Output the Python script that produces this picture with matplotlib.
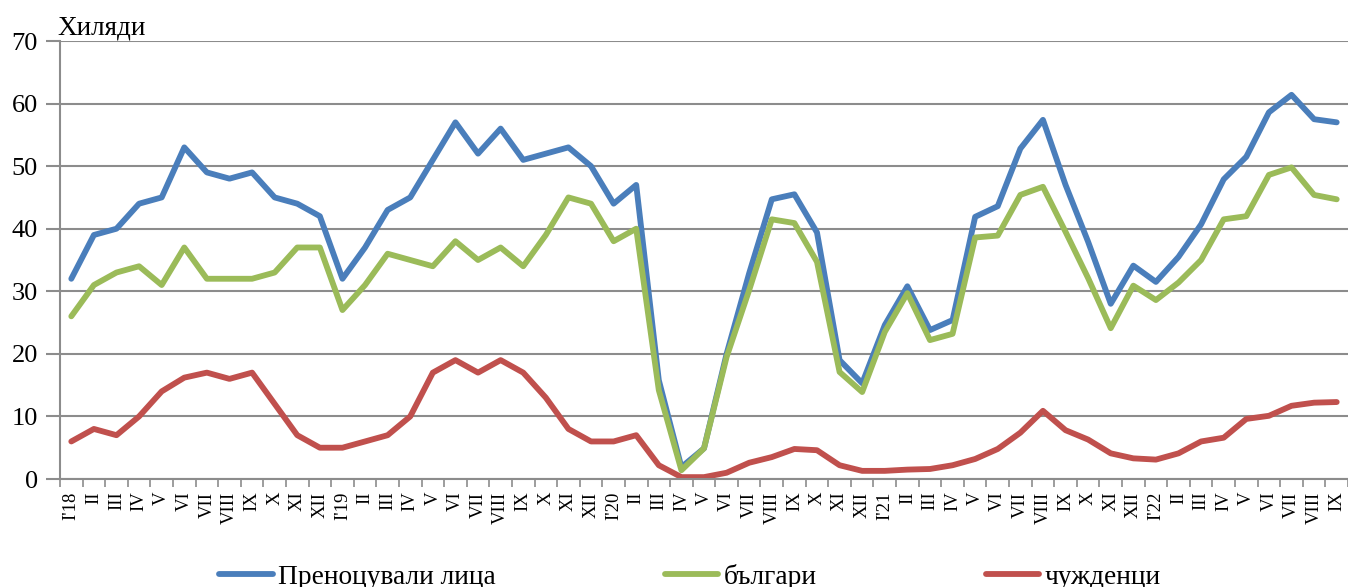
import matplotlib
matplotlib.use("Agg")
import matplotlib.pyplot as plt
import numpy as np

plt.rcParams["font.family"] = ["Liberation Serif", "DejaVu Serif"]

months = ["I", "II", "III", "IV", "V", "VI", "VII", "VIII", "IX", "X", "XI", "XII"]
tick_labels = (
    ["I'18"] + months[1:]
    + ["I'19"] + months[1:]
    + ["I'20"] + months[1:]
    + ["I'21"] + months[1:]
    + ["I'22"] + months[1:9]
)

total = [
    32, 39, 40, 44, 45, 53, 49, 48, 49, 45, 44, 42,
    32, 37, 43, 45, 51, 57, 52, 56, 51, 52, 53, 50,
    44, 47, 15.8, 1.9, 4.9, 20, 32.9, 44.7, 45.5, 39.4, 19, 15.3,
    24.6, 30.8, 23.8, 25.4, 41.9, 43.6, 52.8, 57.4, 47, 37.9, 28, 34.1,
    31.5, 35.5, 40.7, 47.9, 51.5, 58.6, 61.4, 57.5, 57,
]
bulgarians = [
    26, 31, 33, 34, 31, 37, 32, 32, 32, 33, 37, 37,
    27, 31, 36, 35, 34, 38, 35, 37, 34, 39, 45, 44,
    38, 40, 14.2, 1.4, 4.9, 19.5, 30.2, 41.5, 40.9, 34.7, 17.1, 13.9,
    23.5, 29.7, 22.2, 23.2, 38.6, 38.9, 45.4, 46.7, 39.5, 32.1, 24.1, 30.9,
    28.6, 31.4, 35, 41.5, 42, 48.6, 49.8, 45.4, 44.7,
]
foreigners = [
    6, 8, 7, 10, 14, 16.2, 17, 16, 17, 12, 7, 5,
    5, 6, 7, 10, 17, 19, 17, 19, 17, 13, 8, 6,
    6, 7, 2.2, 0.3, 0.3, 1.0, 2.6, 3.5, 4.8, 4.6, 2.2, 1.3,
    1.3, 1.5, 1.6, 2.2, 3.2, 4.8, 7.4, 10.9, 7.8, 6.3, 4.1, 3.3,
    3.1, 4.1, 6.0, 6.6, 9.6, 10.1, 11.7, 12.2, 12.3,
]
series_names = ["Преноцували лица", "българи", "чужденци"]
colors = ["#4A7EBB", "#9BBB59", "#C0504D"]

x = np.arange(len(tick_labels))
grid_color = "#8C8C8C"

fig = plt.figure(figsize=(13.48, 5.87), dpi=100)
ax = fig.add_axes([60 / 1348, 1 - 479 / 587, 1 - 60 / 1348, 438 / 587])

for values, name, color in zip([total, bulgarians, foreigners], series_names, colors):
    ax.plot(x, values, color=color, linewidth=4.2, label=name,
            solid_capstyle="round", solid_joinstyle="round")

ax.set_xlim(-0.5, len(x) - 0.5)
ax.set_ylim(0, 70)
ax.set_yticks(range(0, 71, 10))
ax.yaxis.grid(True, color=grid_color, linewidth=1.5)
ax.set_axisbelow(True)

ax.set_xticks(x)
ax.set_xticklabels(tick_labels, rotation=90, fontsize=13.5)
ax.set_xticks(np.arange(-0.5, len(x), 1), minor=True)
ax.tick_params(axis="x", which="major", length=0, pad=9)
ax.tick_params(axis="x", which="minor", length=6, width=1.2, color=grid_color)
ax.tick_params(axis="y", length=10, width=1.5, color=grid_color, labelsize=19, pad=6)

for side in ["top", "right"]:
    ax.spines[side].set_visible(False)
for side in ["left", "bottom"]:
    ax.spines[side].set_color(grid_color)
    ax.spines[side].set_linewidth(1.5)

fig.text(57 / 1348, 1 - 34 / 587, "Хиляди", fontsize=19.5, ha="left", va="baseline")

fig.legend(loc="center", bbox_to_anchor=(0.512, 0.017), ncol=3, frameon=False,
           fontsize=19.7, handlelength=1.95, handletextpad=0.2, columnspacing=6.18)

fig.savefig("out.png", dpi=100)
plt.close(fig)
